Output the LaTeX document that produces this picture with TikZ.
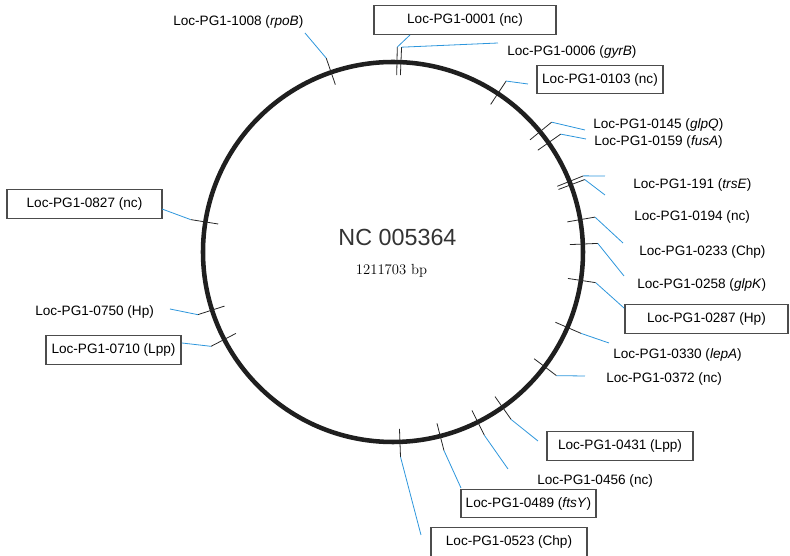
\documentclass[tikz,border=0pt]{standalone}
\usepackage{fontspec}
\setsansfont{Liberation Sans}
\usetikzlibrary{positioning}
\definecolor{leadblue}{RGB}{45,150,220}

\begin{document}
\begin{tikzpicture}[
  x=0.75pt, y=0.75pt,
  font=\sffamily\fontsize{10.2}{12}\selectfont,
  lbl/.style  = {anchor=west, inner sep=0pt},
  box/.style  = {rectangle, draw=black!70, line width=0.8pt,
                 minimum width=#1*0.75pt, minimum height=21.5pt, inner sep=0pt},
  tick/.style = {draw=black!85, line width=0.6pt},
  lead/.style = {draw=leadblue, line width=0.6pt},
]
\useasboundingbox (-393,-304) rectangle (397,252);

% ── Genome circle ─────────────────────────────────────────────────────────────
\node[circle, draw=black!88, line width=3.4pt, minimum size=380*0.75pt,
      inner sep=0pt] (genome) at (0,0) {};
\node[font=\sffamily\fontsize{17.5}{20}\selectfont, text=black!80] (title) at (4.5,15) {NC 005364};
\node[font=\rmfamily\fontsize{11}{13}\selectfont] (size) at (-1.5,-19) {1211703 bp};

% ── Loci, top ─────────────────────────────────────────────────────────────────
\node[lbl]     (n1008) at (-220,230)   {Loc-PG1-1008 (\textit{rpoB})};
\node[box=182] (n0001) at (72,232)     {Loc-PG1-0001 (nc)};
\node[lbl]     (n0006) at (114,200)    {Loc-PG1-0006 (\textit{gyrB})};
\node[box=126] (n0103) at (207,172.5)  {Loc-PG1-0103 (nc)};

% ── Loci, right ───────────────────────────────────────────────────────────────
\node[lbl]     (n0145) at (200,127)    {Loc-PG1-0145 (\textit{glpQ})};
\node[lbl]     (n0159) at (201,110)    {Loc-PG1-0159 (\textit{fusA})};
\node[lbl]     (n0191) at (240,67)     {Loc-PG1-191 (\textit{trsE})};
\node[lbl]     (n0194) at (241,35)     {Loc-PG1-0194 (nc)};
\node[lbl]     (n0233) at (246,0)      {Loc-PG1-0233 (Chp)};
\node[lbl]     (n0258) at (244,-33)    {Loc-PG1-0258 (\textit{glpK})};
\node[box=163] (n0287) at (313.5,-67)  {Loc-PG1-0287 (Hp)};
\node[lbl]     (n0330) at (220,-103)   {Loc-PG1-0330 (\textit{lepA})};
\node[lbl]     (n0372) at (213,-127)   {Loc-PG1-0372 (nc)};

% ── Loci, bottom ──────────────────────────────────────────────────────────────
\node[box=146] (n0431) at (227,-194)   {Loc-PG1-0431 (Lpp)};
\node[lbl]     (n0456) at (144,-229)   {Loc-PG1-0456 (nc)};
\node[box=135] (n0489) at (135.5,-251.5) {Loc-PG1-0489 (\textit{ftsY})};
\node[box=156] (n0523) at (116,-290)   {Loc-PG1-0523 (Chp)};

% ── Loci, left ────────────────────────────────────────────────────────────────
\node[box=155] (n0827) at (-308.5,48)  {Loc-PG1-0827 (nc)};
\node[lbl]     (n0750) at (-358,-60)   {Loc-PG1-0750 (Hp)};
\node[box=135] (n0710) at (-279.5,-98) {Loc-PG1-0710 (Lpp)};

% ── Ticks and leaders ─────────────────────────────────────────────────────────
\foreach \m/\a/\ex/\ey in {m01/109/-88/219, m02/88.8/17/217, m03/87.6/105/209,
    m04/56.5/135/168, m05/39.3/192/122, m06/35.1/193/113, m07/21.8/212/76,
    m08/20.7/212/57, m09/9.8/230/9, m10/2.4/231/-24, m11/-8.6/231/-56,
    m12/-23.4/216/-91, m13/-37.1/192/-124, m14/-54.8/145/-189,
    m15/-63.5/115/-217, m16/-75.6/68/-236, m17/-87.9/28/-283,
    m18/170.9/-231/43, m19/197.8/-223/-57, m20/207.4/-211/-91} {
  \coordinate (\m-in)  at (\a:177);
  \coordinate (\m-out) at (\a:205);
  \coordinate (\m-end) at (\ex,\ey);
  \draw[tick] (\m-in) -- (\m-out);
  \draw[lead] (\m-out) -- (\m-end);
}

\end{tikzpicture}
\end{document}
